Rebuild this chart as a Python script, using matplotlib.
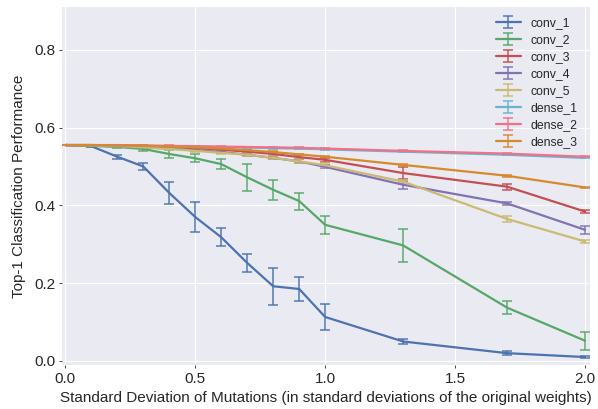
import matplotlib.pyplot as plt
import numpy as np

# mutation strength (std devs of original weights)
x = [0.0, 0.1, 0.2, 0.3, 0.4, 0.5, 0.6, 0.7, 0.8, 0.9, 1.0, 1.3, 1.7, 2.0]

labels = ['conv_1', 'conv_2', 'conv_3', 'conv_4', 'conv_5', 'dense_1', 'dense_2', 'dense_3']
colors = ['#4C72B0', '#55A868', '#C44E52', '#8172B2', '#CCB974', '#64B5CD', '#F2708A', '#D68A2C']

conv_1 = [0.555, 0.552, 0.525, 0.500, 0.432, 0.370, 0.318, 0.252, 0.192, 0.185, 0.113, 0.050, 0.020, 0.010]
conv_1_err = [0.0, 0.002, 0.005, 0.010, 0.028, 0.038, 0.023, 0.024, 0.048, 0.031, 0.033, 0.006, 0.005, 0.003]
conv_2 = [0.555, 0.553, 0.550, 0.545, 0.532, 0.521, 0.506, 0.472, 0.440, 0.411, 0.350, 0.297, 0.137, 0.052]
conv_2_err = [0.0, 0.002, 0.003, 0.005, 0.010, 0.010, 0.012, 0.034, 0.025, 0.022, 0.023, 0.043, 0.016, 0.023]
conv_3 = [0.555, 0.555, 0.554, 0.552, 0.550, 0.547, 0.543, 0.538, 0.532, 0.524, 0.517, 0.483, 0.448, 0.384]
conv_3_err = [0.0, 0.001, 0.001, 0.002, 0.002, 0.003, 0.003, 0.004, 0.005, 0.005, 0.005, 0.015, 0.008, 0.003]
conv_4 = [0.555, 0.554, 0.552, 0.549, 0.546, 0.542, 0.537, 0.530, 0.522, 0.513, 0.499, 0.453, 0.405, 0.337]
conv_4_err = [0.0, 0.001, 0.001, 0.002, 0.002, 0.003, 0.003, 0.004, 0.004, 0.005, 0.004, 0.010, 0.003, 0.010]
conv_5 = [0.555, 0.554, 0.552, 0.549, 0.545, 0.540, 0.535, 0.530, 0.522, 0.513, 0.503, 0.461, 0.365, 0.307]
conv_5_err = [0.0, 0.001, 0.002, 0.002, 0.003, 0.003, 0.004, 0.004, 0.004, 0.005, 0.005, 0.004, 0.008, 0.005]
dense_1 = [0.555, 0.555, 0.554, 0.553, 0.552, 0.551, 0.550, 0.549, 0.547, 0.546, 0.544, 0.538, 0.530, 0.522]
dense_1_err = [0.0, 0.0, 0.0, 0.0, 0.001, 0.001, 0.001, 0.001, 0.001, 0.001, 0.001, 0.001, 0.001, 0.001]
dense_2 = [0.555, 0.555, 0.555, 0.554, 0.553, 0.552, 0.551, 0.550, 0.549, 0.548, 0.546, 0.540, 0.533, 0.525]
dense_2_err = [0.0, 0.0, 0.0, 0.0, 0.001, 0.001, 0.001, 0.001, 0.001, 0.001, 0.001, 0.001, 0.001, 0.001]
dense_3 = [0.555, 0.555, 0.554, 0.553, 0.551, 0.549, 0.546, 0.542, 0.537, 0.531, 0.525, 0.504, 0.476, 0.446]
dense_3_err = [0.0, 0.0, 0.001, 0.001, 0.001, 0.001, 0.001, 0.001, 0.002, 0.002, 0.002, 0.002, 0.002, 0.002]

series = [conv_1, conv_2, conv_3, conv_4, conv_5, dense_1, dense_2, dense_3]
errors = [conv_1_err, conv_2_err, conv_3_err, conv_4_err, conv_5_err, dense_1_err, dense_2_err, dense_3_err]

plt.style.use('seaborn-v0_8-darkgrid')
plt.rcParams['font.family'] = ['Liberation Sans', 'DejaVu Sans']

fig = plt.figure(figsize=(5.98, 4.09), dpi=100)
ax = fig.add_axes([0.104, 0.108, 0.883, 0.875])

for y, e, lab, c in zip(series, errors, labels, colors):
    line, caps, bars = ax.errorbar(x, y, yerr=e, label=lab, color=c, linewidth=1.6,
                                   elinewidth=1.3, capsize=3.5, capthick=1.3)
    # bars look a bit lighter than the lines in the original
    for b in bars:
        b.set_alpha(0.8)
    for cp in caps:
        cp.set_alpha(0.8)

ax.set_xlim(-0.012, 2.02)
ax.set_ylim(-0.01, 0.91)
ax.set_xticks([0.0, 0.5, 1.0, 1.5, 2.0])
ax.set_yticks([0.0, 0.2, 0.4, 0.6, 0.8])
ax.tick_params(labelsize=11, colors='#262626', length=2, width=0.6, pad=3)
ax.set_xlabel('Standard Deviation of Mutations (in standard deviations of the original weights)',
              fontsize=11, color='#262626', labelpad=4)
ax.set_ylabel('Top-1 Classification Performance', fontsize=11, color='#262626', labelpad=6)

ax.legend(loc='upper right', bbox_to_anchor=(0.992, 0.995), fontsize=8.8, frameon=False,
          handlelength=2.0, handletextpad=0.8, labelspacing=0.41, borderaxespad=0.3)

fig.savefig('out.png', dpi=100)
